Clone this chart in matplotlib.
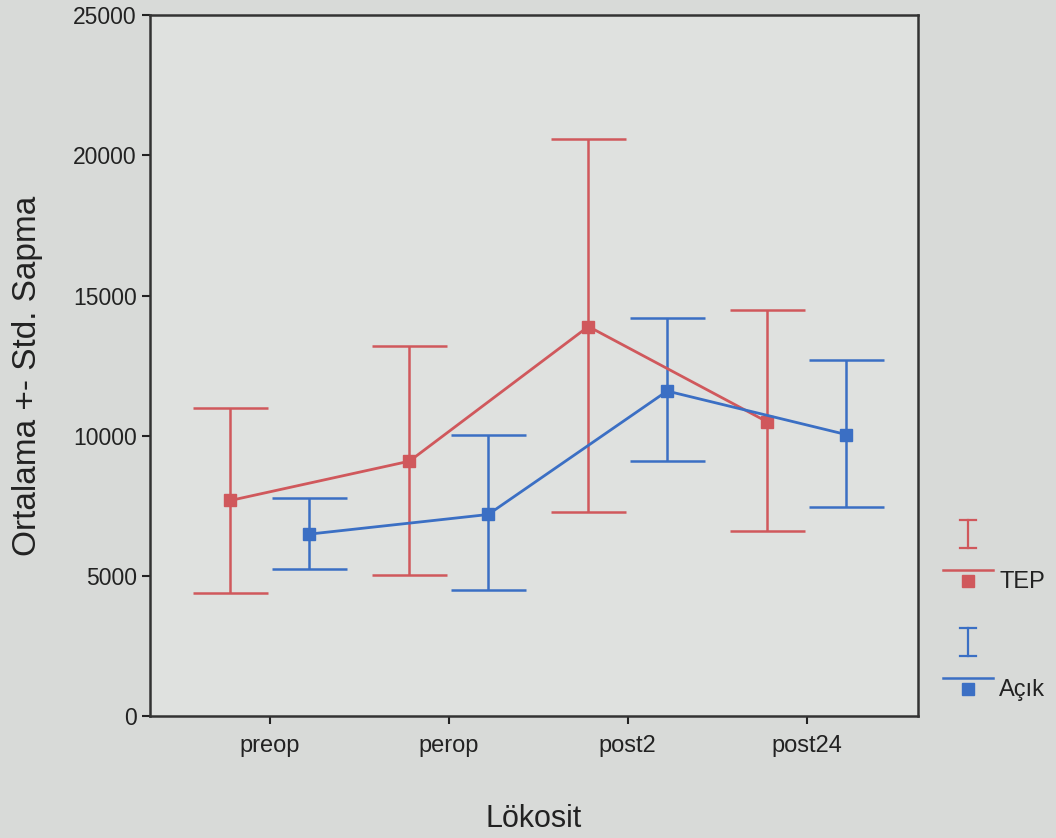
import matplotlib
matplotlib.use("Agg")
import matplotlib.pyplot as plt
from matplotlib.lines import Line2D
import numpy as np

categories = ["preop", "perop", "post2", "post24"]

tep_mean = [7700, 9100, 13900, 10500]
tep_upper = [11000, 13200, 20600, 14500]
tep_lower = [4400, 5050, 7300, 6600]

acik_mean = [6500, 7200, 11600, 10050]
acik_upper = [7800, 10050, 14200, 12700]
acik_lower = [5250, 4500, 9100, 7450]

RED = "#d0585c"
BLUE = "#3b6fc4"
INK = "#222222"

plt.rcParams["font.family"] = ["Liberation Sans", "DejaVu Sans"]

fig = plt.figure(figsize=(10.56, 8.38), dpi=100, facecolor="#d8dad8")
ax = fig.add_axes([0.142, 0.145, 0.727, 0.837])
ax.set_facecolor("#dfe1df")

x = np.arange(len(categories))
off = 0.22


def draw_series(xpos, mean, lo, hi, color):
    mean = np.array(mean)
    yerr = [mean - np.array(lo), np.array(hi) - mean]
    ax.errorbar(xpos, mean, yerr=yerr, fmt="none", ecolor=color,
                elinewidth=1.8, capsize=27, capthick=1.8, zorder=2)
    ax.plot(xpos, mean, color=color, lw=2.0, marker="s", markersize=9,
            zorder=3)


draw_series(x - off, tep_mean, tep_lower, tep_upper, RED)
draw_series(x + off, acik_mean, acik_lower, acik_upper, BLUE)

ax.set_xlim(-0.67, 3.62)
ax.set_ylim(0, 25000)
ax.set_yticks([0, 5000, 10000, 15000, 20000, 25000])
ax.set_xticks(x)
ax.set_xticklabels(categories)
ax.tick_params(axis="both", colors=INK, width=1.5, length=6)
ax.tick_params(axis="y", labelsize=16.5)
ax.tick_params(axis="x", labelsize=17, pad=7)
for s in ax.spines.values():
    s.set_color("#333333")
    s.set_linewidth(1.8)

ax.set_xlabel("Lökosit", fontsize=22, color=INK, labelpad=34)
ax.set_ylabel("Ortalama +- Std. Sapma", fontsize=24, color=INK)
ax.yaxis.set_label_coords(-0.139, 0.485)

# legend drawn beside the plot in figure pixels
W, H = 1056, 838


def fx(px):
    return px / W


def fy(py):
    return 1 - py / H


def legend_entry(ytop, color, label):
    cx = 968
    fig.add_artist(Line2D([fx(cx), fx(cx)], [fy(ytop), fy(ytop + 28)],
                          color=color, lw=1.6))
    for yy in (ytop, ytop + 28):
        fig.add_artist(Line2D([fx(cx - 8), fx(cx + 8)], [fy(yy), fy(yy)],
                              color=color, lw=1.6))
    fig.add_artist(Line2D([fx(cx - 25), fx(cx + 25)],
                          [fy(ytop + 50), fy(ytop + 50)], color=color, lw=1.8))
    fig.add_artist(Line2D([fx(cx)], [fy(ytop + 61)], color=color, marker="s",
                          markersize=8, lw=0))
    fig.text(fx(999), fy(ytop + 62), label, fontsize=17, color=INK,
             va="center", ha="left")


legend_entry(520, RED, "TEP")
legend_entry(628, BLUE, "Açık")

fig.savefig("out.png", dpi=100, facecolor=fig.get_facecolor())
